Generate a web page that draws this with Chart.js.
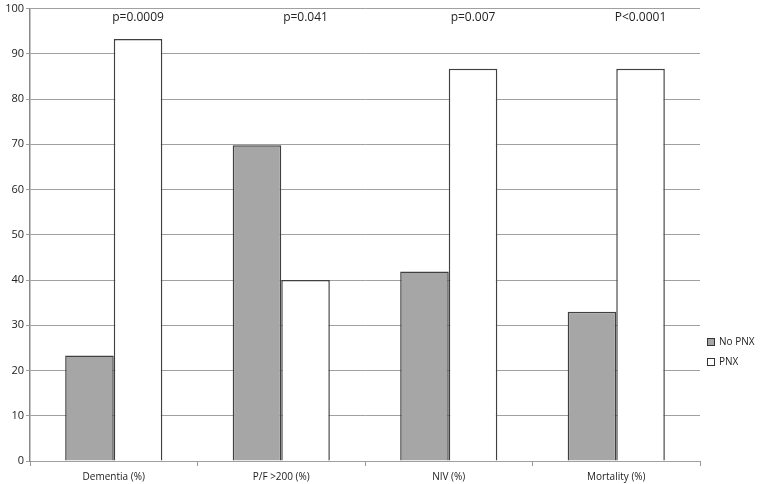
<!DOCTYPE html>
<html>
<head>
<meta charset="utf-8">
<script src="https://cdn.jsdelivr.net/npm/chart.js@4"></script>
<style>
  html, body { margin: 0; padding: 0; background: #fff; }
  #wrap { width: 765px; height: 484px; }
</style>
</head>
<body>
<div id="wrap"><canvas id="chart"></canvas></div>
<script>
// データ
const CATEGORIES = ['Dementia (%)', 'P/F >200 (%)', 'NIV (%)', 'Mortality (%)'];
const NO_PNX = [23.3, 69.8, 41.9, 33.0];
const PNX = [93.3, 40.0, 86.7, 86.7];
const P_VALUES = ['p=0.0009', 'p=0.041', 'p=0.007', 'P<0.0001'];
const Y_TICKS = [0, 10, 20, 30, 40, 50, 60, 70, 80, 90, 100];

const FONT = 'Open Sans, DejaVu Sans, sans-serif';

// p値と凡例を描く
const extras = {
    id: 'extras',
    afterDatasetsDraw(chart) {
        const ctx = chart.ctx;
        const meta = chart.getDatasetMeta(1);
        ctx.save();
        ctx.font = '12px ' + FONT;
        ctx.fillStyle = '#222';
        ctx.textAlign = 'center';
        ctx.textBaseline = 'middle';
        meta.data.forEach((bar, i) => {
            ctx.fillText(P_VALUES[i], bar.x, 18);
        });

        // 凡例
        ctx.font = '10px ' + FONT;
        ctx.textAlign = 'left';
        chart.data.datasets.forEach((ds, i) => {
            const y = 342 + i * 20;
            ctx.fillStyle = ds.backgroundColor;
            ctx.fillRect(707, y - 4, 8, 8);
            ctx.strokeStyle = '#333';
            ctx.lineWidth = 1;
            ctx.strokeRect(707.5, y - 3.5, 7, 7);
            ctx.fillStyle = '#222';
            ctx.fillText(ds.label, 719, y);
        });
        ctx.restore();
    }
};

new Chart(document.getElementById('chart'), {
    type: 'bar',
    data: {
        labels: CATEGORIES,
        datasets: [
            { label: 'No PNX', data: NO_PNX, backgroundColor: '#a6a6a6', borderColor: '#404040', borderWidth: 1.5 },
            { label: 'PNX', data: PNX, backgroundColor: '#ffffff', borderColor: '#404040', borderWidth: 1.5 }
        ]
    },
    options: {
        responsive: true,
        maintainAspectRatio: false,
        animation: false,
        layout: { padding: { top: 2, right: 65, left: 0, bottom: 0 } },
        datasets: { bar: { barPercentage: 1, categoryPercentage: 0.58 } },
        scales: {
            x: {
                grid: { offset: true, drawOnChartArea: false, color: '#999', tickLength: 5 },
                border: { display: false },
                ticks: { color: '#222', font: { size: 10, family: FONT }, padding: 5, maxRotation: 0 },
                afterFit(s) { s.height = 23; }
            },
            y: {
                min: 0,
                max: 100,
                afterBuildTicks(s) { s.ticks = Y_TICKS.map(v => ({ value: v })); },
                grid: { color: '#a0a0a0', tickLength: 4 },
                border: { color: '#888', width: 1.5 },
                ticks: { color: '#222', font: { size: 11, family: FONT }, padding: 2 },
                afterFit(s) { s.width = 30; }
            }
        },
        plugins: {
            legend: { display: false },
            tooltip: { enabled: false }
        }
    },
    plugins: [extras]
});
</script>
</body>
</html>
